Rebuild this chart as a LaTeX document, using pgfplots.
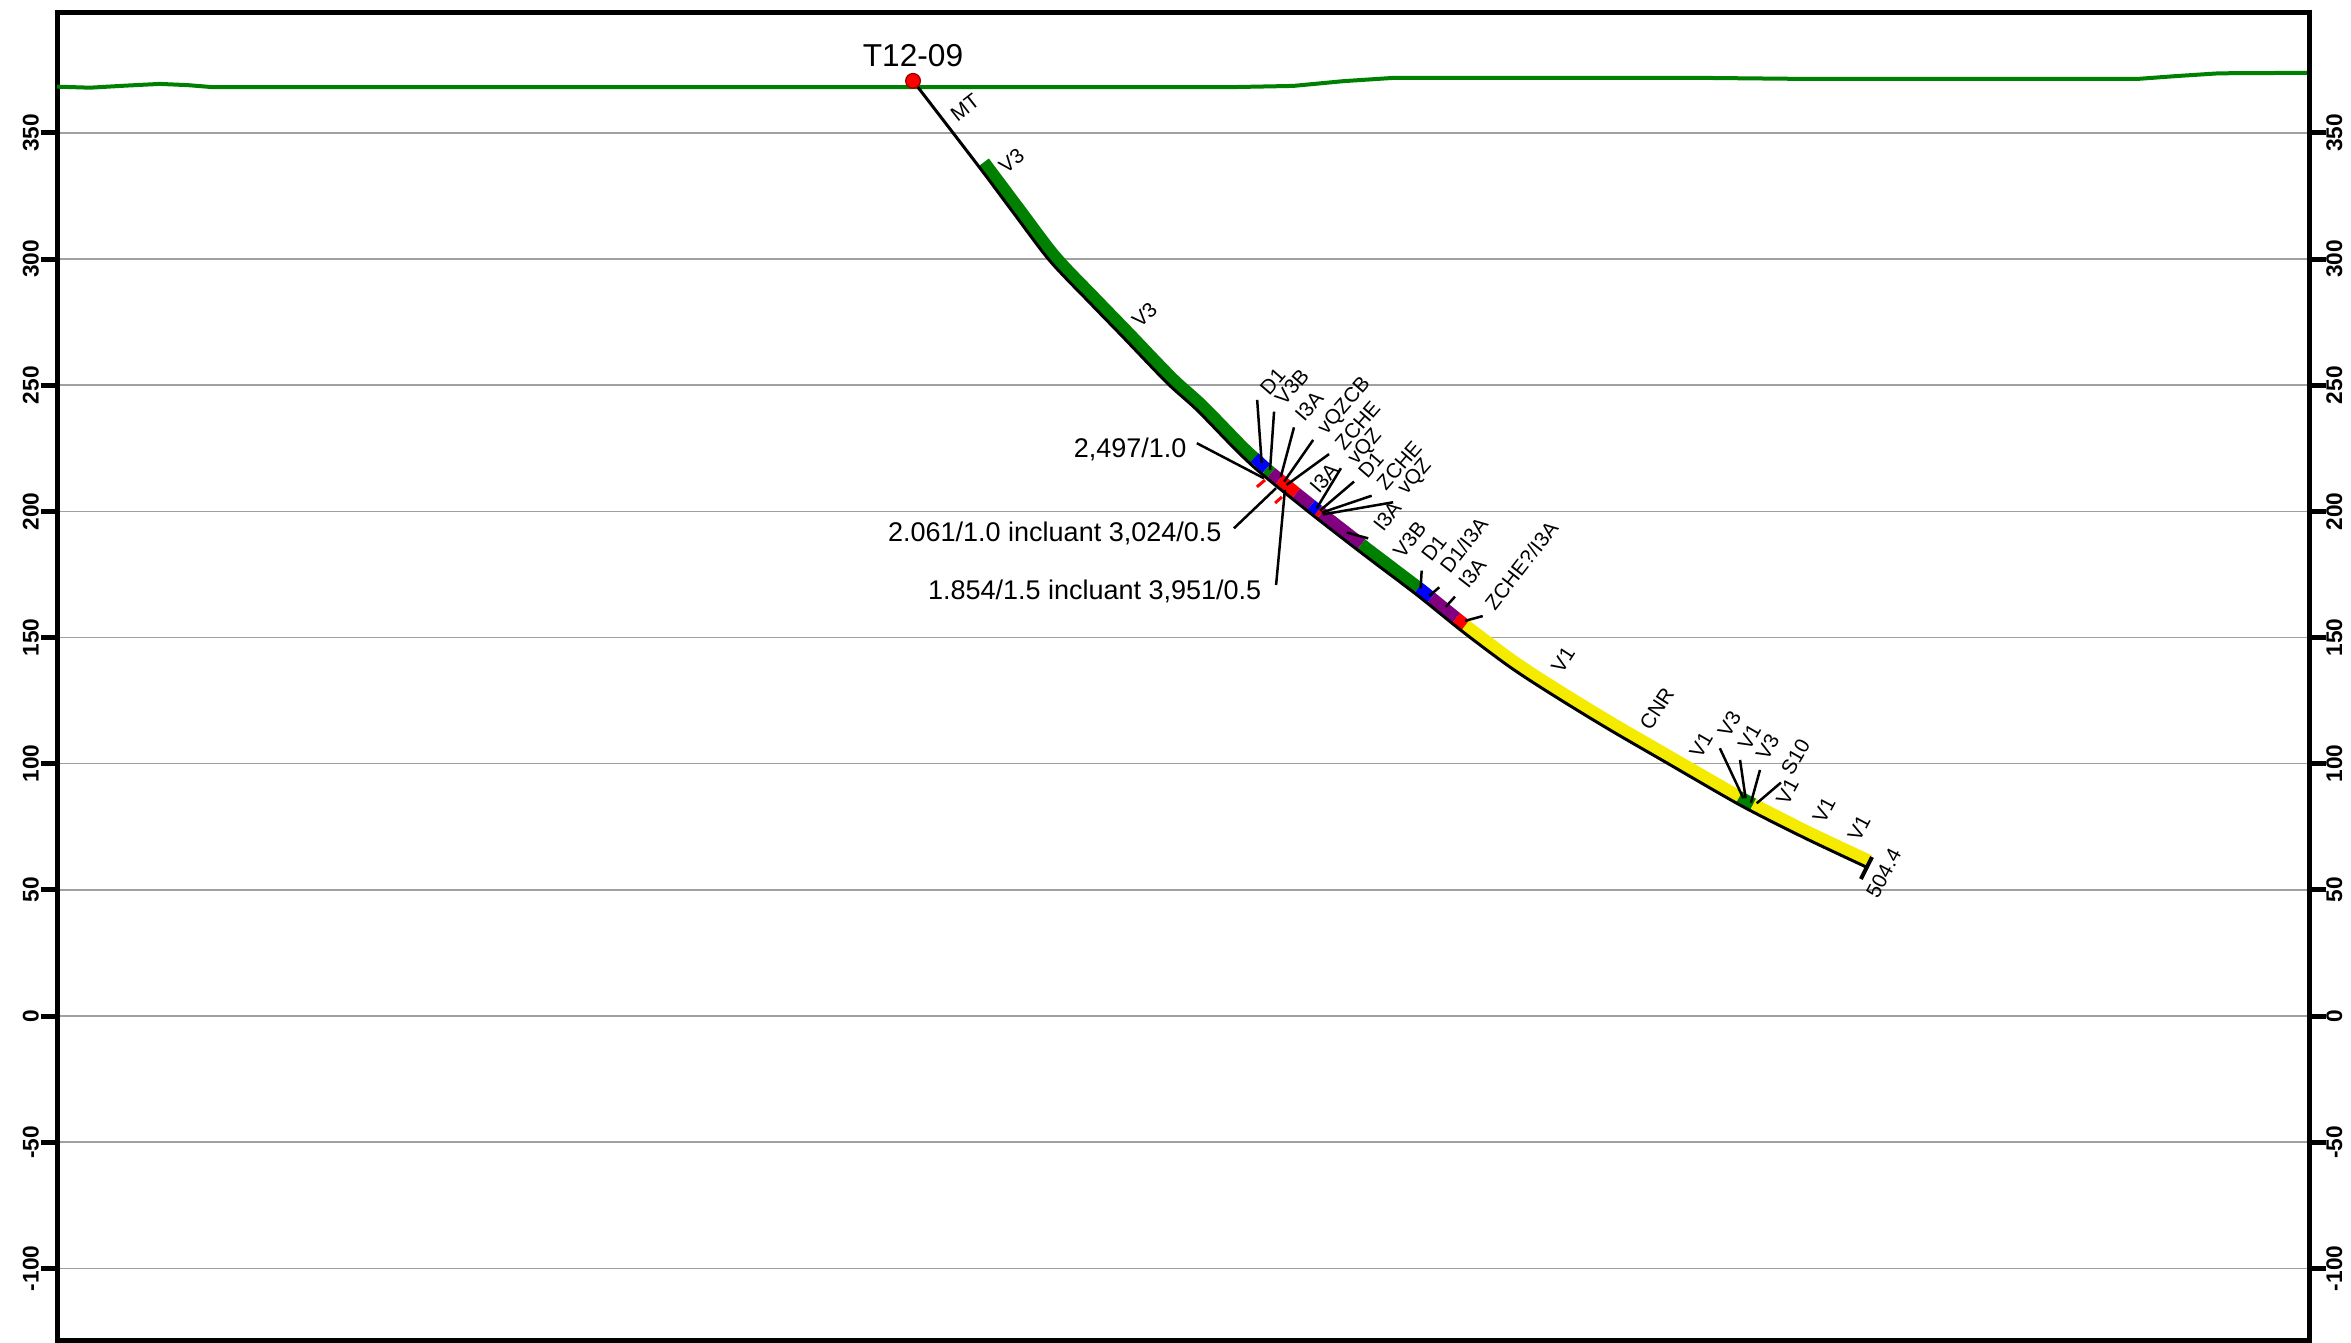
\documentclass[border=0pt]{standalone}
\usepackage{pgfplots}
\pgfplotsset{compat=1.18}
\usepackage{fontspec}
\setmainfont{Liberation Sans}

\definecolor{lgreen}{RGB}{0,128,0}
\definecolor{lblue}{RGB}{0,0,255}
\definecolor{lpurple}{RGB}{128,0,128}
\definecolor{lred}{RGB}{255,0,0}
\definecolor{lyellow}{RGB}{245,235,0}
\definecolor{gridgray}{RGB}{160,160,160}

\newcommand\lbl{\fontsize{6.2}{7}\selectfont}
\newcommand\biglbl{\fontsize{8.1}{9}\selectfont}
% leader line from label to hole
\newcommand\leader[4]{\addplot[black, line width=0.75pt] coordinates {(#1,#2) (#3,#4)};}
% outward scale tick at elevation #1 (left and right)
\newcommand\scaletick[1]{%
  \addplot[black, line width=1.5pt] coordinates {(-6.5,#1) (0.5,#1)};
  \addplot[black, line width=1.5pt] coordinates {(892.5,#1) (899.5,#1)};}

\pgfplotsset{
  sect/.style={
    at={(0pt,0pt)}, anchor=south west, scale only axis,
    width=675.9pt, height=398.1pt,
    xmin=0, xmax=893, ymin=-128.4, ymax=397.5,
    ytick={-100,-50,0,50,100,150,200,250,300,350},
    yticklabels={-100,-50,0,50,100,150,200,250,300,350},
    tick align=outside, major tick length=4.4pt,
    ytick style={draw=black, line width=1.3pt},
  },
  band/.style={line width=3.5pt},
  ticklbl/.style={font=\bfseries\fontsize{6.8}{7.5}\selectfont, inner sep=0pt},
}

\begin{document}
\begin{tikzpicture}
\path[use as bounding box] (-17.1pt,-0.6pt) rectangle (688.2pt,402.0pt);

\begin{axis}[sect, clip=false,
  axis line style={line width=1.5pt},
  xtick=\empty, ytick pos=left,
  ymajorgrids, grid style={gridgray, line width=0.45pt},
  yticklabel style={ticklbl, rotate=90, anchor=south},
  yticklabel shift=0.85pt,
]

% topography
\addplot[lgreen, line width=1.2pt] coordinates {
(0,368.3) (13.1,367.9) (27,368.7) (40.8,369.4) (52,368.9) (61.8,368.1)
(464.4,368.1) (490,368.6) (510,370.5) (530,371.8) (650,371.8) (690,371.4)
(825,371.4) (840,372.5) (857,373.6) (893,373.8)};

% outward elevation ticks on both sides
\scaletick{-100}\scaletick{-50}\scaletick{0}\scaletick{50}\scaletick{100}
\scaletick{150}\scaletick{200}\scaletick{250}\scaletick{300}\scaletick{350}

% lithology band (drawn beside the trace)
\addplot[band, lgreen, smooth, tension=0.5, xshift=1.6pt, yshift=1.4pt] coordinates {
(365.4,336.6) (379.7,317.5) (393.6,299.2) (409.4,282.6) (422.5,269.1)
(440.0,250.9) (451.8,240.2) (467.7,223.9) (472.9,219.1)};
\addplot[band, lblue,   xshift=1.36pt, yshift=1.63pt] coordinates {(472.9,219.1) (477.6,214.8)};
\addplot[band, lgreen,  xshift=1.36pt, yshift=1.63pt] coordinates {(477.6,214.8) (479.6,213.2)};
\addplot[band, lpurple, xshift=1.36pt, yshift=1.63pt] coordinates {(479.6,213.2) (482.8,210.6)};
\addplot[band, lred,    xshift=1.36pt, yshift=1.63pt] coordinates {(482.8,210.6) (489.5,205.1)};
\addplot[band, lpurple, xshift=1.36pt, yshift=1.63pt] coordinates {(489.5,205.1) (495.4,200.4)};
\addplot[band, lblue,   xshift=1.36pt, yshift=1.63pt] coordinates {(495.4,200.4) (496.6,199.4) (498.2,198.2)};
\addplot[band, lred,    xshift=1.36pt, yshift=1.63pt] coordinates {(498.2,198.2) (499.4,197.2)};
\addplot[band, lpurple, xshift=1.36pt, yshift=1.63pt] coordinates {(499.4,197.2) (515.3,184.9)};
\addplot[band, lgreen,  xshift=1.36pt, yshift=1.63pt] coordinates {(515.3,184.9) (517.6,183.1) (537.9,167.7)};
\addplot[band, lblue,   xshift=1.36pt, yshift=1.63pt] coordinates {(537.9,167.7) (539.0,166.9) (543.0,163.7)};
\addplot[band, lpurple, xshift=1.36pt, yshift=1.63pt] coordinates {(543.0,163.7) (552.9,155.7)};
\addplot[band, lred,    xshift=1.36pt, yshift=1.63pt] coordinates {(552.9,155.7) (556.9,152.5)};
\addplot[band, lyellow, smooth, tension=0.5, xshift=1.06pt, yshift=1.84pt] coordinates {
(556.9,152.5) (575.9,138.3) (592.9,127.2) (614.3,114.1) (638.1,100.3) (665.5,84.5)};
\addplot[band, lgreen,  xshift=1.06pt, yshift=1.84pt] coordinates {(665.5,84.5) (667.1,83.6) (671.0,81.6)};
\addplot[band, lyellow, smooth, tension=0.5, xshift=1.06pt, yshift=1.84pt] coordinates {(671.0,81.6) (692.0,70.9) (717.0,59.1)};

% hole trace
\addplot[black, line width=0.9pt, smooth, tension=0.5] coordinates {
(339.3,370.6) (365.8,336.1) (379.7,317.5) (393.6,299.2) (409.4,282.6)
(422.5,269.1) (440.0,250.9) (451.8,240.2) (467.7,223.9) (477.6,214.8) (496.6,199.4)
(517.6,183.1) (539.0,166.9) (557.3,152.2) (575.9,138.3) (592.9,127.2) (614.3,114.1)
(638.1,100.3) (667.1,83.6) (692.0,70.9) (717.0,59.1)};
\addplot[black, line width=1.2pt] coordinates {(719.4,63.0) (715.0,54.3)};

% sample ticks
\addplot[lred, line width=0.9pt] coordinates {(475.6,209.7) (478.8,212.4)};
\addplot[lred, line width=0.9pt] coordinates {(482.8,203.3) (485.5,205.7)};

% leaders
\leader{475.7}{244.2}{477.5}{219.1}
\leader{482.4}{239.5}{480.8}{216.4}
\leader{490.3}{233.3}{485.1}{213.8}
\leader{497.9}{228.3}{486.4}{211.8}
\leader{504.2}{222.7}{487.4}{210.5}
\leader{508.9}{217.1}{499.3}{201.2}
\leader{514.1}{211.8}{500.6}{200.3}
\leader{521.1}{206.2}{501.3}{199.5}
\leader{529.6}{203.6}{501.9}{198.8}
\leader{519.7}{189.3}{511.2}{191.6}
\leader{540.9}{176.5}{540.5}{169.5}
\leader{547.9}{169.9}{543.9}{166.5}
\leader{554.1}{166.2}{550.5}{162.2}
\leader{565.1}{158.5}{558.1}{156.6}
\leader{659.1}{106.1}{668.4}{86.3}
\leader{667.1}{101.5}{669.3}{86.3}
\leader{675.0}{97.5}{671.4}{84.5}
\leader{683.3}{92.5}{673.7}{84.3}
\leader{451.8}{227.0}{478.4}{213.1}
\leader{466.5}{193.3}{483.2}{209.2}
\leader{483.2}{170.8}{486.7}{208.5}

% collar
\addplot[only marks, mark=*, mark size=2.2pt,
  mark options={fill=lred, draw=red!60!black, line width=0.4pt}] coordinates {(339.3,370.6)};

% labels
\node[anchor=base, inner sep=0pt, font=\fontsize{9.5}{11}\selectfont] at (339.3,376.3) {T12-09};
\begin{scope}[every node/.style={inner sep=0pt, anchor=west, font=\lbl}]
\node[rotate=38] at (355.0,356.2) {MT};
\node[rotate=39] at (374.2,335.5) {V3};
\node[rotate=43] at (427.2,274.3) {V3};
\node[rotate=49] at (478.2,247.3) {D1};
\node[rotate=49] at (484.2,243.3) {V3B};
\node[rotate=49] at (492.1,236.7) {I3A};
\node[rotate=49] at (501.4,231.4) {vQZCB};
\node[rotate=49] at (508.0,225.5) {ZCHE};
\node[rotate=49] at (513.3,219.5) {vQZ};
\node[rotate=49] at (498.0,208.3) {I3A};
\node[rotate=49] at (517.2,214.3) {D1};
\node[rotate=49] at (524.5,209.6) {ZCHE};
\node[rotate=49] at (533.1,207.6) {vQZ};
\node[rotate=52] at (523.3,193.0) {I3A};
\node[rotate=52] at (531.2,182.4) {V3B};
\node[rotate=52] at (542.4,181.1) {D1};
\node[rotate=52] at (549.7,176.5) {D1/I3A};
\node[rotate=52] at (557.0,170.5) {I3A};
\node[rotate=52] at (567.5,162.0) {ZCHE?/I3A};
\node[rotate=57] at (594.1,136.7) {V1};
\node[rotate=57] at (629.1,114.2) {CNR};
\node[rotate=60] at (649.0,102.9) {V1};
\node[rotate=60] at (660.2,111.1) {V3};
\node[rotate=60] at (668.2,106.1) {V1};
\node[rotate=60] at (675.4,102.2) {V3};
\node[rotate=60] at (685.3,96.2) {S10};
\node[rotate=62] at (683.4,84.3) {V1};
\node[rotate=62] at (697.9,77.0) {V1};
\node[rotate=62] at (711.8,69.8) {V1};
\node[rotate=62] at (719.1,47.3) {504.4};
\end{scope}
\begin{scope}[every node/.style={inner sep=0pt, anchor=base east, font=\biglbl}]
\node at (447.9,221.2) {2,497/1.0};
\node at (461.8,187.9) {2.061/1.0 incluant 3,024/0.5};
\node at (477.6,164.9) {1.854/1.5 incluant 3,951/0.5};
\end{scope}
\end{axis}

% right-hand elevation scale
\begin{axis}[sect,
  hide x axis, axis y line*=right,
  axis line style={-, line width=1.5pt},
  yticklabel style={ticklbl, rotate=90, anchor=north},
  yticklabel shift=0.3pt,
]
\addplot[draw=none] coordinates {(0,0)};
\end{axis}
\end{tikzpicture}
\end{document}
